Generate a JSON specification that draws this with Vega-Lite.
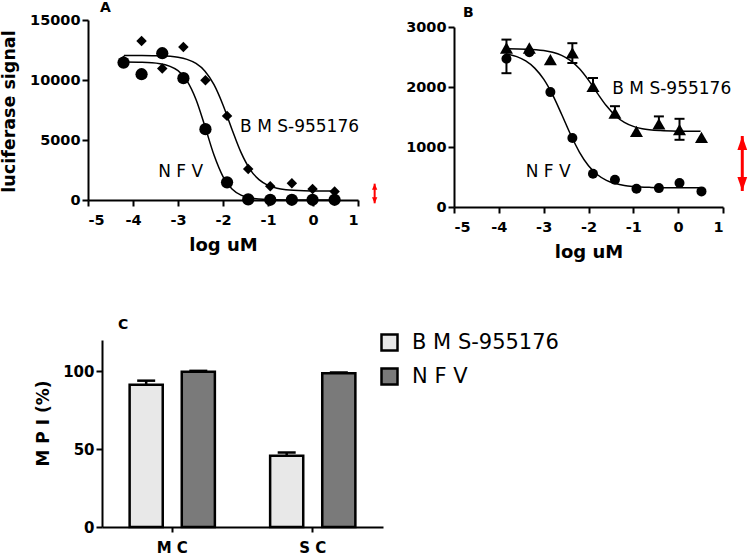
{
  "$schema": "https://vega.github.io/schema/vega-lite/v6.json",
  "padding": {"left": -1, "top": 1, "right": 0, "bottom": 0},
  "background": "white",
  "config": {
    "view": {"stroke": null},
    "font": "DejaVu Sans",
    "axis": {"domainColor": "black", "domainWidth": 2, "tickColor": "black", "tickWidth": 2, "tickSize": 6, "labelFont": "DejaVu Sans", "labelFontWeight": "bold", "labelFontSize": 14.5, "labelColor": "black", "titleFont": "DejaVu Sans", "titleFontWeight": "bold", "titleColor": "black", "grid": false, "labelPadding": 2},
    "axisX": {"labelPadding": 7},
    "title": {"font": "DejaVu Sans", "fontWeight": "bold", "fontSize": 14, "anchor": "start", "frame": "group", "color": "black", "baseline": "alphabetic"}
  },
  "datasets": {
    "curveA": [
      {"drug": "NFV", "x": -4.2, "y": 11495}, {"drug": "NFV", "x": -3.8, "y": 11475}, {"drug": "NFV", "x": -3.4, "y": 11362}, {"drug": "NFV", "x": -3.0, "y": 10775}, {"drug": "NFV", "x": -2.8, "y": 9927}, {"drug": "NFV", "x": -2.6, "y": 8376}, {"drug": "NFV", "x": -2.4, "y": 6120}, {"drug": "NFV", "x": -2.2, "y": 3746}, {"drug": "NFV", "x": -2.0, "y": 1956}, {"drug": "NFV", "x": -1.8, "y": 921}, {"drug": "NFV", "x": -1.6, "y": 410}, {"drug": "NFV", "x": -1.4, "y": 179}, {"drug": "NFV", "x": -1.2, "y": 76}, {"drug": "NFV", "x": -1.0, "y": 32}, {"drug": "NFV", "x": -0.6, "y": 6}, {"drug": "NFV", "x": -0.2, "y": 1}, {"drug": "NFV", "x": 0.2, "y": 0}, {"drug": "NFV", "x": 0.5, "y": 0},
      {"drug": "BMS-955176", "x": -4.2, "y": 12048}, {"drug": "BMS-955176", "x": -3.8, "y": 12041}, {"drug": "BMS-955176", "x": -3.4, "y": 12013}, {"drug": "BMS-955176", "x": -3.0, "y": 11889}, {"drug": "BMS-955176", "x": -2.8, "y": 11718}, {"drug": "BMS-955176", "x": -2.6, "y": 11379}, {"drug": "BMS-955176", "x": -2.4, "y": 10734}, {"drug": "BMS-955176", "x": -2.2, "y": 9609}, {"drug": "BMS-955176", "x": -2.0, "y": 7923}, {"drug": "BMS-955176", "x": -1.8, "y": 5882}, {"drug": "BMS-955176", "x": -1.6, "y": 3968}, {"drug": "BMS-955176", "x": -1.4, "y": 2559}, {"drug": "BMS-955176", "x": -1.2, "y": 1695}, {"drug": "BMS-955176", "x": -1.0, "y": 1223}, {"drug": "BMS-955176", "x": -0.8, "y": 981}, {"drug": "BMS-955176", "x": -0.6, "y": 862}, {"drug": "BMS-955176", "x": -0.2, "y": 776}, {"drug": "BMS-955176", "x": 0.2, "y": 756}, {"drug": "BMS-955176", "x": 0.5, "y": 752}
    ],
    "ptsA": [
      {"drug": "BMS-955176", "x": -4.21, "y": 11600}, {"drug": "BMS-955176", "x": -3.81, "y": 13250}, {"drug": "BMS-955176", "x": -3.35, "y": 10950}, {"drug": "BMS-955176", "x": -2.88, "y": 12750}, {"drug": "BMS-955176", "x": -2.39, "y": 9980}, {"drug": "BMS-955176", "x": -1.91, "y": 7010}, {"drug": "BMS-955176", "x": -1.44, "y": 2580}, {"drug": "BMS-955176", "x": -0.95, "y": 1140}, {"drug": "BMS-955176", "x": -0.47, "y": 1390}, {"drug": "BMS-955176", "x": -0.01, "y": 915}, {"drug": "BMS-955176", "x": 0.48, "y": 700},
      {"drug": "NFV", "x": -4.21, "y": 11450}, {"drug": "NFV", "x": -3.81, "y": 10480}, {"drug": "NFV", "x": -3.35, "y": 12230}, {"drug": "NFV", "x": -2.88, "y": 10150}, {"drug": "NFV", "x": -2.39, "y": 5900}, {"drug": "NFV", "x": -1.91, "y": 1470}, {"drug": "NFV", "x": -1.44, "y": 50}, {"drug": "NFV", "x": -0.95, "y": 20}, {"drug": "NFV", "x": -0.47, "y": 20}, {"drug": "NFV", "x": -0.01, "y": 20}, {"drug": "NFV", "x": 0.48, "y": 20}
    ],
    "labA": [
      {"x": -1.62, "y": 6080, "label": "B M S-955176"},
      {"x": -3.44, "y": 2330, "label": "N F V"}
    ],
    "arrA": [{"x": 1.37, "lo": -275, "hi": 1360}],
    "curveB": [
      {"drug": "NFV", "x": -3.85, "y": 2554}, {"drug": "NFV", "x": -3.6, "y": 2506}, {"drug": "NFV", "x": -3.4, "y": 2434}, {"drug": "NFV", "x": -3.2, "y": 2315}, {"drug": "NFV", "x": -3.0, "y": 2130}, {"drug": "NFV", "x": -2.8, "y": 1868}, {"drug": "NFV", "x": -2.6, "y": 1545}, {"drug": "NFV", "x": -2.4, "y": 1208}, {"drug": "NFV", "x": -2.2, "y": 912}, {"drug": "NFV", "x": -2.0, "y": 688}, {"drug": "NFV", "x": -1.8, "y": 538}, {"drug": "NFV", "x": -1.6, "y": 445}, {"drug": "NFV", "x": -1.4, "y": 391}, {"drug": "NFV", "x": -1.2, "y": 359}, {"drug": "NFV", "x": -1.0, "y": 342}, {"drug": "NFV", "x": -0.6, "y": 327}, {"drug": "NFV", "x": -0.2, "y": 322}, {"drug": "NFV", "x": 0.2, "y": 320}, {"drug": "NFV", "x": 0.5, "y": 320},
      {"drug": "BMS-955176", "x": -3.85, "y": 2638}, {"drug": "BMS-955176", "x": -3.4, "y": 2631}, {"drug": "BMS-955176", "x": -3.0, "y": 2607}, {"drug": "BMS-955176", "x": -2.8, "y": 2578}, {"drug": "BMS-955176", "x": -2.6, "y": 2527}, {"drug": "BMS-955176", "x": -2.4, "y": 2439}, {"drug": "BMS-955176", "x": -2.2, "y": 2303}, {"drug": "BMS-955176", "x": -2.0, "y": 2114}, {"drug": "BMS-955176", "x": -1.8, "y": 1894}, {"drug": "BMS-955176", "x": -1.6, "y": 1686}, {"drug": "BMS-955176", "x": -1.4, "y": 1522}, {"drug": "BMS-955176", "x": -1.2, "y": 1411}, {"drug": "BMS-955176", "x": -1.0, "y": 1344}, {"drug": "BMS-955176", "x": -0.8, "y": 1305}, {"drug": "BMS-955176", "x": -0.4, "y": 1273}, {"drug": "BMS-955176", "x": 0.0, "y": 1264}, {"drug": "BMS-955176", "x": 0.5, "y": 1261}
    ],
    "ptsB": [
      {"drug": "NFV", "x": -3.83, "y": 2470}, {"drug": "NFV", "x": -3.32, "y": 2580}, {"drug": "NFV", "x": -2.85, "y": 1915}, {"drug": "NFV", "x": -2.36, "y": 1150}, {"drug": "NFV", "x": -1.9, "y": 555}, {"drug": "NFV", "x": -1.41, "y": 455}, {"drug": "NFV", "x": -0.93, "y": 305}, {"drug": "NFV", "x": -0.43, "y": 315}, {"drug": "NFV", "x": 0.03, "y": 400}, {"drug": "NFV", "x": 0.52, "y": 260},
      {"drug": "BMS-955176", "x": -3.83, "y": 2650}, {"drug": "BMS-955176", "x": -3.32, "y": 2650}, {"drug": "BMS-955176", "x": -2.85, "y": 2455}, {"drug": "BMS-955176", "x": -2.36, "y": 2570}, {"drug": "BMS-955176", "x": -1.9, "y": 2010}, {"drug": "BMS-955176", "x": -1.41, "y": 1565}, {"drug": "BMS-955176", "x": -0.93, "y": 1260}, {"drug": "BMS-955176", "x": -0.43, "y": 1385}, {"drug": "BMS-955176", "x": 0.03, "y": 1290}, {"drug": "BMS-955176", "x": 0.52, "y": 1160}
    ],
    "errB": [
      {"x": -3.83, "from": 2650, "to": 2790}, {"x": -3.83, "from": 2470, "to": 2230},
      {"x": -2.36, "from": 2570, "to": 2730}, {"x": -2.36, "from": 2570, "to": 2400},
      {"x": -1.9, "from": 2010, "to": 2150}, {"x": -1.41, "from": 1565, "to": 1680},
      {"x": -0.43, "from": 1385, "to": 1510}, {"x": 0.03, "from": 1290, "to": 1470}, {"x": 0.03, "from": 1290, "to": 1120}
    ],
    "labB": [
      {"x": -1.47, "y": 1967, "label": "B M S-955176"},
      {"x": -3.4, "y": 583, "label": "N F V"}
    ],
    "arrB": [{"x": 1.43, "lo": 267, "hi": 1183}],
    "mpi": [
      {"cell": "MC", "drug": "BMS-955176", "mpi": 91.3, "upper": 93.9},
      {"cell": "MC", "drug": "NFV", "mpi": 99.7, "upper": 100.2},
      {"cell": "SC", "drug": "BMS-955176", "mpi": 45.7, "upper": 47.8},
      {"cell": "SC", "drug": "NFV", "mpi": 98.6, "upper": 99.2}
    ]
  },
  "bounds": "flush",
  "spacing": 320,
  "vconcat": [
    {
      "bounds": "flush",
      "spacing": 96,
      "hconcat": [
        {
          "width": 270,
          "height": 180,
          "title": {"text": "A", "dx": 12, "offset": -3},
          "layer": [
            {
              "data": {"name": "curveA"},
              "mark": {"type": "line", "color": "black", "strokeWidth": 1.5, "interpolate": "monotone"},
              "encoding": {
                "x": {"field": "x", "type": "quantitative", "scale": {"domain": [-5, 1], "nice": false, "zero": false}, "axis": {"values": [-5, -4, -3, -2, -1, 0, 1], "labelExpr": "datum.value + ''", "title": "log uM", "titleFontSize": 18, "titleY": 45, "titleBaseline": "middle"}},
                "y": {"field": "y", "type": "quantitative", "scale": {"domain": [0, 15000], "nice": false}, "axis": {"values": [0, 5000, 10000, 15000], "format": "d", "title": "luciferase signal", "titleFontSize": 17.5, "titleX": -79, "titleY": 91, "titleBaseline": "middle"}},
                "detail": {"field": "drug"}
              }
            },
            {
              "data": {"name": "ptsA"},
              "transform": [{"filter": "datum.drug == 'BMS-955176'"}],
              "mark": {"type": "point", "shape": "diamond", "filled": true, "color": "black", "opacity": 1, "size": 110},
              "encoding": {"x": {"field": "x", "type": "quantitative"}, "y": {"field": "y", "type": "quantitative"}}
            },
            {
              "data": {"name": "ptsA"},
              "transform": [{"filter": "datum.drug == 'NFV'"}],
              "mark": {"type": "point", "shape": "circle", "filled": true, "color": "black", "opacity": 1, "size": 150},
              "encoding": {"x": {"field": "x", "type": "quantitative"}, "y": {"field": "y", "type": "quantitative"}}
            },
            {
              "data": {"name": "labA"},
              "mark": {"type": "text", "align": "left", "baseline": "middle", "fontSize": 17, "font": "DejaVu Sans", "color": "black"},
              "encoding": {"x": {"field": "x", "type": "quantitative"}, "y": {"field": "y", "type": "quantitative"}, "text": {"field": "label"}}
            },
            {
              "data": {"name": "arrA"},
              "mark": {"type": "rule", "color": "red", "strokeWidth": 2},
              "encoding": {"x": {"field": "x", "type": "quantitative"}, "y": {"field": "lo", "type": "quantitative"}, "y2": {"field": "hi"}}
            },
            {
              "data": {"name": "arrA"},
              "mark": {"type": "point", "shape": "M0,-1L-0.9,1L0.9,1Z", "filled": true, "color": "red", "opacity": 1, "size": 36, "yOffset": 3},
              "encoding": {"x": {"field": "x", "type": "quantitative"}, "y": {"field": "hi", "type": "quantitative"}}
            },
            {
              "data": {"name": "arrA"},
              "mark": {"type": "point", "shape": "M0,1L-0.9,-1L0.9,-1Z", "filled": true, "color": "red", "opacity": 1, "size": 36, "yOffset": -3},
              "encoding": {"x": {"field": "x", "type": "quantitative"}, "y": {"field": "lo", "type": "quantitative"}}
            }
          ]
        },
        {
          "width": 269,
          "height": 187,
          "title": {"text": "B", "dx": 9, "offset": -1},
          "layer": [
            {
              "data": {"name": "curveB"},
              "mark": {"type": "line", "color": "black", "strokeWidth": 1.5, "interpolate": "monotone"},
              "encoding": {
                "x": {"field": "x", "type": "quantitative", "scale": {"domain": [-5, 1], "nice": false, "zero": false}, "axis": {"values": [-5, -4, -3, -2, -1, 0, 1], "labelExpr": "datum.value + ''", "title": "log uM", "titleFontSize": 18, "titleY": 45, "titleBaseline": "middle"}},
                "y": {"field": "y", "type": "quantitative", "scale": {"domain": [0, 3000], "nice": false, "range": [187, 7]}, "axis": {"values": [0, 1000, 2000, 3000], "format": "d", "title": null}},
                "detail": {"field": "drug"}
              }
            },
            {
              "data": {"name": "errB"},
              "mark": {"type": "rule", "color": "black", "strokeWidth": 2},
              "encoding": {"x": {"field": "x", "type": "quantitative"}, "y": {"field": "from", "type": "quantitative"}, "y2": {"field": "to"}}
            },
            {
              "data": {"name": "errB"},
              "mark": {"type": "tick", "orient": "horizontal", "color": "black", "size": 10, "thickness": 2, "opacity": 1},
              "encoding": {"x": {"field": "x", "type": "quantitative"}, "y": {"field": "to", "type": "quantitative"}}
            },
            {
              "data": {"name": "ptsB"},
              "transform": [{"filter": "datum.drug == 'NFV'"}],
              "mark": {"type": "point", "shape": "circle", "filled": true, "color": "black", "opacity": 1, "size": 100},
              "encoding": {"x": {"field": "x", "type": "quantitative"}, "y": {"field": "y", "type": "quantitative"}}
            },
            {
              "data": {"name": "ptsB"},
              "transform": [{"filter": "datum.drug == 'BMS-955176'"}],
              "mark": {"type": "point", "shape": "triangle-up", "filled": true, "color": "black", "opacity": 1, "size": 170},
              "encoding": {"x": {"field": "x", "type": "quantitative"}, "y": {"field": "y", "type": "quantitative"}}
            },
            {
              "data": {"name": "labB"},
              "mark": {"type": "text", "align": "left", "baseline": "middle", "fontSize": 17, "font": "DejaVu Sans", "color": "black"},
              "encoding": {"x": {"field": "x", "type": "quantitative"}, "y": {"field": "y", "type": "quantitative"}, "text": {"field": "label"}}
            },
            {
              "data": {"name": "arrB"},
              "mark": {"type": "rule", "color": "red", "strokeWidth": 3},
              "encoding": {"x": {"field": "x", "type": "quantitative"}, "y": {"field": "lo", "type": "quantitative"}, "y2": {"field": "hi"}}
            },
            {
              "data": {"name": "arrB"},
              "mark": {"type": "point", "shape": "M0,-1L-0.7,1L0.7,1Z", "filled": true, "color": "red", "opacity": 1, "size": 196, "yOffset": 7},
              "encoding": {"x": {"field": "x", "type": "quantitative"}, "y": {"field": "hi", "type": "quantitative"}}
            },
            {
              "data": {"name": "arrB"},
              "mark": {"type": "point", "shape": "M0,1L-0.7,-1L0.7,-1Z", "filled": true, "color": "red", "opacity": 1, "size": 196, "yOffset": -7},
              "encoding": {"x": {"field": "x", "type": "quantitative"}, "y": {"field": "lo", "type": "quantitative"}}
            }
          ]
        }
      ]
    },
    {
      "width": 295,
      "height": 187,
      "title": {"text": "C", "dx": 30, "offset": 8},
      "data": {"name": "mpi"},
      "encoding": {
        "x": {"field": "cell", "type": "nominal", "scale": {"range": [14, 295], "paddingInner": 0, "paddingOuter": 0}, "axis": {"labelExpr": "datum.label == 'MC' ? 'M C' : 'S C'", "labelAngle": 0, "title": null, "labelFontSize": 15, "labelPadding": 8, "tickSize": 5}},
        "xOffset": {"field": "drug", "type": "nominal", "scale": {"paddingInner": 0.365, "paddingOuter": 0.53}}
      },
      "layer": [
        {
          "mark": {"type": "bar", "stroke": "black", "strokeWidth": 2.5},
          "encoding": {
            "y": {"field": "mpi", "type": "quantitative", "scale": {"domain": [0, 120], "nice": false}, "axis": {"values": [0, 50, 100], "title": "M P I (%)", "titleFontSize": 17, "offset": -14, "titleX": -59, "titleY": 83, "titleBaseline": "middle", "labelFontSize": 15}},
            "fill": {"field": "drug", "type": "nominal", "scale": {"domain": ["BMS-955176", "NFV"], "range": ["#e8e8e8", "#7a7a7a"]}, "legend": {"orient": "none", "legendX": 291, "legendY": 312, "title": null, "symbolType": "square", "symbolSize": 256, "symbolStrokeColor": "black", "symbolStrokeWidth": 2.5, "labelFontSize": 21, "labelFont": "DejaVu Sans", "labelFontWeight": "normal", "labelColor": "black", "labelOffset": 12, "rowPadding": 7, "padding": 0, "labelExpr": "datum.label == 'NFV' ? 'N F V' : 'B M S-955176'"}}
          }
        },
        {
          "mark": {"type": "rule", "color": "black", "strokeWidth": 2.5},
          "encoding": {"y": {"field": "mpi", "type": "quantitative"}, "y2": {"field": "upper"}}
        },
        {
          "mark": {"type": "tick", "color": "black", "size": 18, "thickness": 2.5, "opacity": 1},
          "encoding": {"y": {"field": "upper", "type": "quantitative"}}
        }
      ]
    }
  ]
}
